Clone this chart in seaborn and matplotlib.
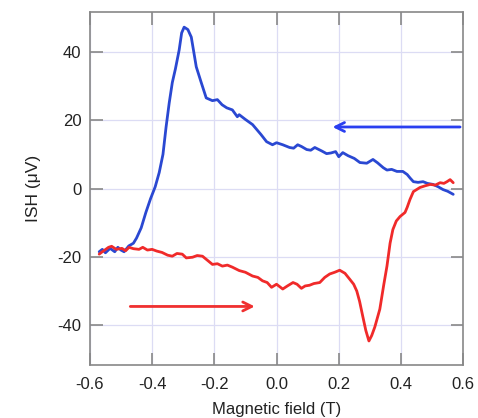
import numpy as np
import pandas as pd
import matplotlib
matplotlib.use("Agg")
import matplotlib.pyplot as plt
import seaborn as sns

# Blue sweep (field decreasing)
blue_x = [0.568, 0.55, 0.535, 0.52, 0.503, 0.485, 0.471, 0.455, 0.44, 0.43, 0.42, 0.406,
          0.387, 0.37, 0.355, 0.343, 0.325, 0.31, 0.29, 0.268, 0.25, 0.23, 0.213, 0.2,
          0.19, 0.175, 0.161, 0.145, 0.123, 0.11, 0.097, 0.08, 0.068, 0.055, 0.042, 0.02,
          0.0, -0.013, -0.032, -0.05, -0.077, -0.1, -0.12, -0.126, -0.142, -0.16, -0.175,
          -0.19, -0.206, -0.226, -0.242, -0.258, -0.274, -0.285, -0.297, -0.305, -0.313,
          -0.325, -0.335, -0.345, -0.355, -0.365, -0.377, -0.39, -0.405, -0.42, -0.435,
          -0.45, -0.46, -0.475, -0.49, -0.50, -0.51, -0.52, -0.535, -0.55, -0.56, -0.57]
blue_y = [-1.7, -0.8, -0.3, 0.5, 1.2, 1.5, 2.0, 1.8, 2.0, 3.0, 4.1, 5.0,
          5.0, 5.6, 5.4, 6.1, 7.5, 8.5, 7.4, 7.6, 8.8, 9.6, 10.5, 9.3,
          10.8, 10.4, 10.2, 11.0, 12.0, 11.2, 11.4, 12.3, 12.8, 11.8, 12.0, 12.8,
          13.4, 12.8, 13.7, 15.8, 18.7, 20.2, 21.6, 21.0, 23.0, 23.6, 24.5,
          26.0, 25.7, 26.5, 31.0, 35.6, 44.3, 46.5, 47.2, 45.5, 40.5,
          35.0, 31.0, 25.0, 18.0, 10.0, 4.7, 0.5, -3.0, -7.0, -11.5,
          -14.5, -16.0, -16.8, -18.5, -18.0, -17.2, -18.5, -17.5, -18.8, -17.8, -18.5]

# Red sweep (field increasing)
red_x = [-0.57, -0.56, -0.549, -0.54, -0.53, -0.515, -0.497, -0.485, -0.474, -0.46, -0.442,
         -0.43, -0.415, -0.4, -0.385, -0.368, -0.35, -0.335, -0.32, -0.303, -0.29, -0.27,
         -0.255, -0.238, -0.222, -0.206, -0.19, -0.174, -0.158, -0.142, -0.12, -0.1, -0.077,
         -0.06, -0.045, -0.03, -0.016, 0.0, 0.02, 0.035, 0.053, 0.066, 0.08, 0.092, 0.106,
         0.12, 0.139, 0.155, 0.171, 0.187, 0.203, 0.22, 0.235, 0.248, 0.258, 0.267, 0.277,
         0.287, 0.297, 0.306, 0.316, 0.332, 0.345, 0.355, 0.365, 0.374, 0.385, 0.397, 0.413,
         0.42, 0.429, 0.44, 0.461, 0.478, 0.494, 0.51, 0.526, 0.538, 0.548, 0.558, 0.568]
red_y = [-19.2, -18.5, -17.8, -17.2, -16.9, -17.8, -17.5, -18.2, -17.2, -17.6, -17.8,
         -17.2, -18.0, -17.8, -18.3, -18.7, -19.5, -19.8, -19.0, -19.2, -20.3, -20.1,
         -19.6, -19.8, -21.0, -22.2, -22.0, -22.7, -22.4, -23.0, -24.0, -24.5, -25.6,
         -26.0, -27.0, -27.5, -28.9, -28.0, -29.4, -28.5, -27.5, -28.0, -29.2, -28.5, -28.3,
         -27.8, -27.5, -26.0, -25.0, -24.5, -23.9, -24.8, -26.5, -28.0, -30.0, -33.0, -37.3,
         -41.5, -44.6, -43.0, -40.5, -35.3, -28.0, -22.7, -16.0, -12.0, -9.5, -8.2, -7.0,
         -5.5, -3.2, -0.9, 0.3, 0.8, 1.2, 1.0, 1.7, 1.5, 2.0, 2.6, 1.7]

x_ticks = [-0.6, -0.4, -0.2, 0.0, 0.2, 0.4, 0.6]
x_tick_labels = ["-0.6", "-0.4", "-0.2", "0.0", "0.2", "0.4", "0.6"]
y_ticks = [-40, -20, 0, 20, 40]
y_tick_labels = ["-40", "-20", "0", "20", "40"]

# Arrow indicators (sweep direction)
blue_arrow = {"start": (0.59, 18.0), "end": (0.18, 18.0)}
red_arrow = {"start": (-0.47, -34.5), "end": (-0.07, -34.5)}

sns.set_theme(style="white")
plt.rcParams["font.family"] = ["Liberation Sans", "DejaVu Sans"]

fig = plt.figure(figsize=(4.78, 4.18), dpi=100)
ax = fig.add_axes([0.188, 0.127, 0.781, 0.844])

blue_c = "#2a48d2"
red_c = "#f02a2a"

sns.lineplot(x=blue_x, y=blue_y, sort=False, ax=ax, color=blue_c, lw=2.0)
sns.lineplot(x=red_x, y=red_y, sort=False, ax=ax, color=red_c, lw=2.0)

ax.annotate("", xy=blue_arrow["end"], xytext=blue_arrow["start"],
            arrowprops=dict(arrowstyle="->", color="#2a3ff0", lw=2.0,
                            mutation_scale=16, shrinkA=0, shrinkB=0))
ax.annotate("", xy=red_arrow["end"], xytext=red_arrow["start"],
            arrowprops=dict(arrowstyle="->", color="#f03030", lw=2.0,
                            mutation_scale=16, shrinkA=0, shrinkB=0))

ax.set_xlim(-0.6, 0.6)
ax.set_ylim(-51.6, 51.6)
ax.set_xticks(x_ticks)
ax.set_xticklabels(x_tick_labels)
ax.set_yticks(y_ticks)
ax.set_yticklabels(y_tick_labels)

ax.grid(True, color="#dcdcf4", lw=0.9)
ax.set_axisbelow(True)
for s in ax.spines.values():
    s.set_color("#888888")
    s.set_linewidth(1.2)

ax.tick_params(direction="in", length=9, width=1.2, color="#888888",
               top=True, right=True, bottom=True, left=True,
               labelsize=12, labelcolor="#222222")
ax.tick_params(axis="x", pad=9)
ax.tick_params(axis="y", pad=6)

ax.set_xlabel("Magnetic field (T)", fontsize=12, color="#222222", labelpad=7)
ax.set_ylabel("ISH (μV)", fontsize=12.5, color="#222222", labelpad=12)

fig.savefig("out.png", dpi=100)
